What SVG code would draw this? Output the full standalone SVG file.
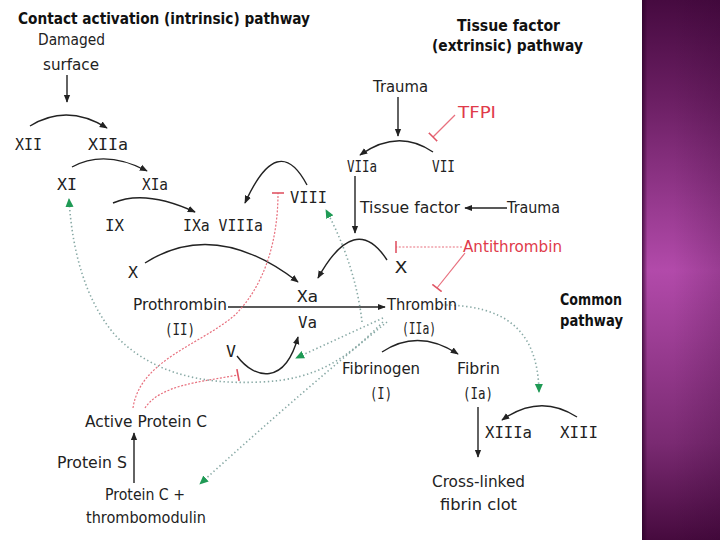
<svg xmlns="http://www.w3.org/2000/svg" width="720" height="540" viewBox="0 0 720 540">
<defs>
<style>
text{font-family:"DejaVu Sans","Liberation Sans",sans-serif;font-size:16px;fill:#222}
.m{font-family:"DejaVu Sans Mono","Liberation Mono",monospace;font-size:16px}
.b{font-weight:bold;fill:#111;font-size:15px}
.r{fill:#e03a4a}
.ln{fill:none;stroke:#222;stroke-width:1.4}
.rs{fill:none;stroke:#e8707e;stroke-width:1.2}
.rd{fill:none;stroke:#e8707e;stroke-width:1.2;stroke-dasharray:2 1.6}
.gd{fill:none;stroke:#88a9a5;stroke-width:1.6;stroke-dasharray:1.4 2.6}
</style>
<marker id="arr" viewBox="0 0 10 10" refX="9" refY="5" markerWidth="8" markerHeight="8" markerUnits="userSpaceOnUse" orient="auto"><path d="M0,1 L10,5 L0,9 z" fill="#222"/></marker>
<marker id="garr" viewBox="0 0 10 10" refX="9" refY="5" markerWidth="9" markerHeight="9" markerUnits="userSpaceOnUse" orient="auto"><path d="M0,0.5 L10,5 L0,9.5 z" fill="#1f9a55"/></marker>
<marker id="tb" viewBox="0 0 4 12" refX="2" refY="6" markerWidth="4" markerHeight="12" markerUnits="userSpaceOnUse" orient="auto"><line x1="2" y1="0" x2="2" y2="12" stroke="#e05565" stroke-width="1.6"/></marker>
<linearGradient id="pv" x1="0" y1="0" x2="0" y2="1">
<stop offset="0" stop-color="#460a40"/>
<stop offset="0.18" stop-color="#6a1e62"/>
<stop offset="0.5" stop-color="#b24aaa"/>
<stop offset="0.82" stop-color="#7a2a72"/>
<stop offset="1" stop-color="#460a3e"/>
</linearGradient>
<linearGradient id="ph" x1="0" y1="0" x2="1" y2="0">
<stop offset="0" stop-color="#2a0028" stop-opacity="0.75"/>
<stop offset="0.07" stop-color="#2a0028" stop-opacity="0"/>
<stop offset="0.4" stop-color="#2a0028" stop-opacity="0"/>
<stop offset="1" stop-color="#2a0028" stop-opacity="0.18"/>
</linearGradient>
</defs>
<rect x="0" y="0" width="720" height="540" fill="#fff"/>
<g id="sidebar">
<rect x="642" y="0" width="78" height="540" fill="url(#pv)"/>
<rect x="642" y="0" width="78" height="540" fill="url(#ph)"/>
</g>

<g id="headings">
<text class="b" x="18" y="24" textLength="292" lengthAdjust="spacingAndGlyphs" style="font-size:16px">Contact activation (intrinsic) pathway</text>
<text class="b" x="457" y="31" textLength="103" lengthAdjust="spacingAndGlyphs">Tissue factor</text>
<text class="b" x="432" y="51" textLength="151" lengthAdjust="spacingAndGlyphs">(extrinsic) pathway</text>
<text class="b" x="560" y="305" textLength="62" lengthAdjust="spacingAndGlyphs">Common</text>
<text class="b" x="560" y="326" textLength="63" lengthAdjust="spacingAndGlyphs">pathway</text>
</g>

<g id="connectors">
<path class="ln" d="M67 75 L67 102" marker-end="url(#arr)"/>
<path class="ln" d="M30 126 Q67 103 107 128" marker-end="url(#arr)"/>
<path class="ln" d="M72 167 Q105 149 147 171" marker-end="url(#arr)"/>
<path class="ln" d="M113 203 Q145 189 195 212" marker-end="url(#arr)"/>
<path class="ln" d="M307 185 Q278 130 245 203" marker-end="url(#arr)"/>
<path class="ln" d="M145 263 Q215 218 298 282" marker-end="url(#arr)"/>
<path class="ln" d="M387 260 Q355 211 318 278" marker-end="url(#arr)"/>
<path class="ln" d="M398 97 L398 136" marker-end="url(#arr)"/>
<path class="ln" d="M433 152 Q398 128 360 155" marker-end="url(#arr)"/>
<path class="ln" d="M355 176 L355 233" marker-end="url(#arr)"/>
<path class="ln" d="M507 208 L465 208" marker-end="url(#arr)"/>
<path class="ln" d="M228 307 L385 307" marker-end="url(#arr)"/>
<path class="ln" d="M237 356 C255 380 285 385 298 337" marker-end="url(#arr)"/>
<path class="ln" d="M382 352 Q418 328 458 354" marker-end="url(#arr)"/>
<path class="ln" d="M478 407 L478 457" marker-end="url(#arr)"/>
<path class="ln" d="M577 417 Q540 393 502 420" marker-end="url(#arr)"/>
<path class="ln" d="M134 483 L134 433" marker-end="url(#arr)"/>

<path class="rs" d="M455 115 L433 137" marker-end="url(#tb)"/>
<path class="rd" d="M462 247 L396 247" marker-end="url(#tb)"/>
<path class="rs" d="M465 253 L437 288" marker-end="url(#tb)"/>
<path class="rd" d="M133 408 C140 360 200 345 235 315 C265 285 278 240 278 193" marker-end="url(#tb)"/>
<path class="rd" d="M145 408 C160 385 200 382 238 375" marker-end="url(#tb)"/>

<path class="gd" d="M383 322 C350 355 320 380 260 382 C200 385 150 372 115 335 C85 300 72 250 69 199" marker-end="url(#garr)"/>
<path class="gd" d="M362 322 C358 285 345 245 326 210" marker-end="url(#garr)"/>
<path class="gd" d="M383 318 L296 358" marker-end="url(#garr)"/>
<path class="gd" d="M387 322 C340 360 270 420 200 484" marker-end="url(#garr)"/>
<path class="gd" d="M442 305 C505 305 538 330 539 392" marker-end="url(#garr)"/>
</g>

<g id="damaged"><text x="38" y="45" textLength="67" lengthAdjust="spacingAndGlyphs">Damaged</text><text x="43" y="70" textLength="56" lengthAdjust="spacingAndGlyphs">surface</text></g>
<g id="xii"><text class="m" x="15" y="150" textLength="27" lengthAdjust="spacingAndGlyphs">XII</text></g>
<g id="xiia"><text class="m" x="88" y="150" textLength="40" lengthAdjust="spacingAndGlyphs">XIIa</text></g>
<g id="xi"><text class="m" x="57" y="190" textLength="20" lengthAdjust="spacingAndGlyphs">XI</text></g>
<g id="xia"><text class="m" x="142" y="190" textLength="26" lengthAdjust="spacingAndGlyphs">XIa</text></g>
<g id="ix"><text class="m" x="105" y="231" textLength="19" lengthAdjust="spacingAndGlyphs">IX</text></g>
<g id="ixa-viiia"><text class="m" x="183" y="231" textLength="80" lengthAdjust="spacingAndGlyphs">IXa VIIIa</text></g>
<g id="viii"><text class="m" x="290" y="203" textLength="37" lengthAdjust="spacingAndGlyphs">VIII</text></g>
<g id="x-left"><text class="m" x="128" y="278" textLength="10" lengthAdjust="spacingAndGlyphs">X</text></g>
<g id="xa"><text class="m" x="297" y="302" textLength="21" lengthAdjust="spacingAndGlyphs">Xa</text></g>
<g id="prothrombin"><text x="133" y="310" textLength="94" lengthAdjust="spacingAndGlyphs">Prothrombin</text><text class="m" x="165" y="335" textLength="30" lengthAdjust="spacingAndGlyphs">(II)</text></g>
<g id="va"><text class="m" x="298" y="328" textLength="19" lengthAdjust="spacingAndGlyphs">Va</text></g>
<g id="v"><text class="m" x="226" y="357" textLength="10" lengthAdjust="spacingAndGlyphs">V</text></g>
<g id="trauma-top"><text x="373" y="92" textLength="55" lengthAdjust="spacingAndGlyphs">Trauma</text></g>
<g id="tfpi"><text class="r" x="458" y="118" textLength="38" lengthAdjust="spacingAndGlyphs">TFPI</text></g>
<g id="viia"><text class="m" x="347" y="172" textLength="30" lengthAdjust="spacingAndGlyphs">VIIa</text></g>
<g id="vii"><text class="m" x="432" y="172" textLength="23" lengthAdjust="spacingAndGlyphs">VII</text></g>
<g id="tissue-factor"><text x="360" y="213" textLength="100" lengthAdjust="spacingAndGlyphs">Tissue factor</text></g>
<g id="trauma-right"><text x="507" y="213" textLength="53" lengthAdjust="spacingAndGlyphs">Trauma</text></g>
<g id="antithrombin"><text class="r" x="463" y="252" textLength="99" lengthAdjust="spacingAndGlyphs">Antithrombin</text></g>
<g id="x-right"><text class="m" x="395" y="273" textLength="12" lengthAdjust="spacingAndGlyphs">X</text></g>
<g id="thrombin"><text x="387" y="310" textLength="70" lengthAdjust="spacingAndGlyphs">Thrombin</text><text class="m" x="402" y="334" textLength="34" lengthAdjust="spacingAndGlyphs">(IIa)</text></g>
<g id="fibrinogen"><text x="342" y="374" textLength="78" lengthAdjust="spacingAndGlyphs">Fibrinogen</text><text class="m" x="370" y="399" textLength="22" lengthAdjust="spacingAndGlyphs">(I)</text></g>
<g id="fibrin"><text x="457" y="374" textLength="43" lengthAdjust="spacingAndGlyphs">Fibrin</text><text class="m" x="463" y="399" textLength="30" lengthAdjust="spacingAndGlyphs">(Ia)</text></g>
<g id="clot"><text x="432" y="487" textLength="93" lengthAdjust="spacingAndGlyphs">Cross-linked</text><text x="440" y="510" textLength="77" lengthAdjust="spacingAndGlyphs">fibrin clot</text></g>
<g id="xiiia"><text class="m" x="485" y="438" textLength="47" lengthAdjust="spacingAndGlyphs">XIIIa</text></g>
<g id="xiii"><text class="m" x="560" y="438" textLength="38" lengthAdjust="spacingAndGlyphs">XIII</text></g>
<g id="apc"><text x="85" y="427" textLength="122" lengthAdjust="spacingAndGlyphs">Active Protein C</text></g>
<g id="protein-s"><text x="57" y="468" textLength="70" lengthAdjust="spacingAndGlyphs">Protein S</text></g>
<g id="protein-c-tm"><text x="105" y="500" textLength="80" lengthAdjust="spacingAndGlyphs">Protein C +</text><text x="86" y="523" textLength="120" lengthAdjust="spacingAndGlyphs">thrombomodulin</text></g>
</svg>
